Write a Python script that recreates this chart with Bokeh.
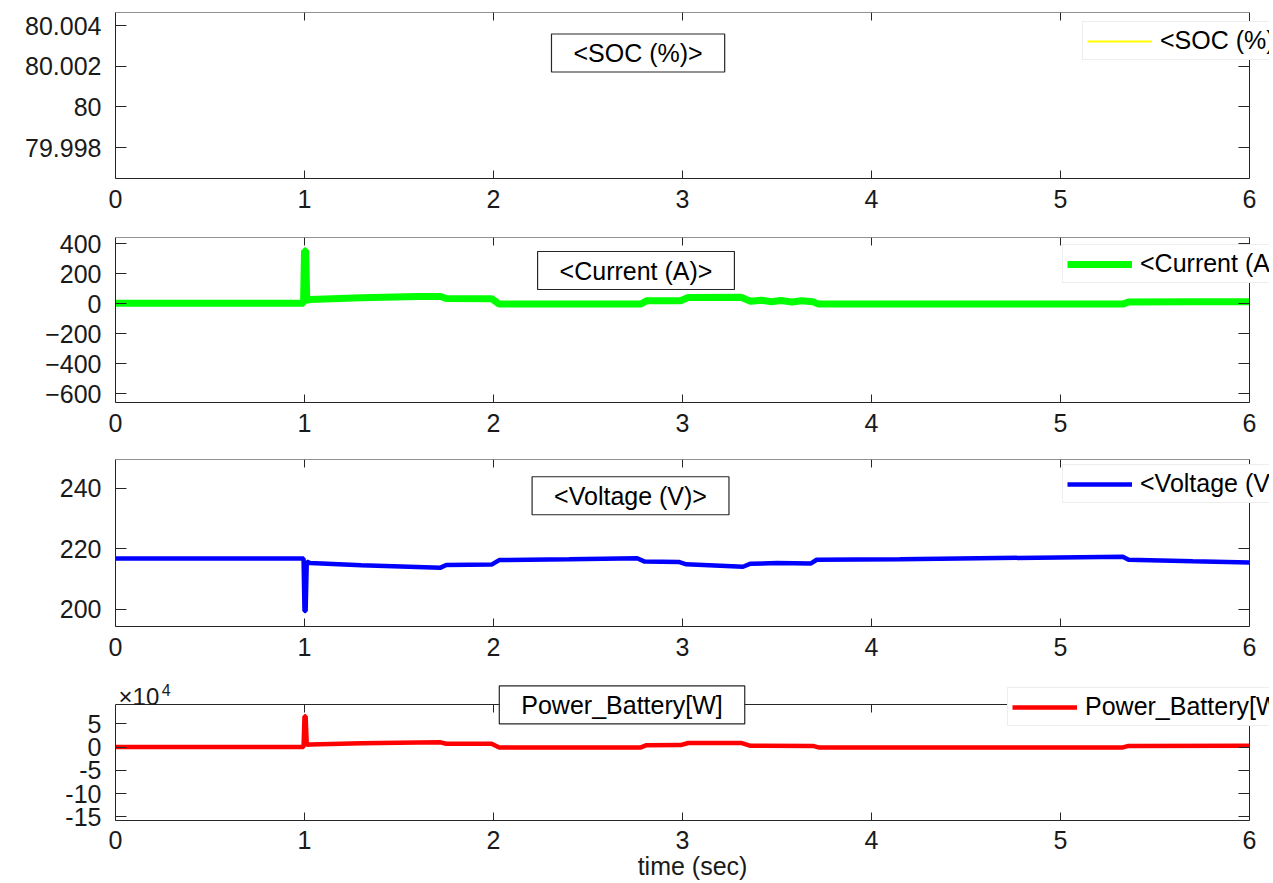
import numpy as np
from bokeh.plotting import figure
from bokeh.layouts import column
from bokeh.models import (LinearAxis, FixedTicker, Label, Legend, LegendItem,
                          Range1d, NumeralTickFormatter)
from bokeh.embed import file_html
from bokeh.resources import INLINE

FONT = "Liberation Sans"
AX = "#262626"

# ---------------- data ----------------
time_ticks = [0, 1, 2, 3, 4, 5, 6]
t_min, t_max = 0, 6

# SOC trace is not visible inside the axes of the reference (no readable values)
soc_time = np.array([0.0, 6.0])
soc_values = np.array([np.nan, np.nan])
soc_ticks = [79.998, 80.0, 80.002, 80.004]

current_time = [0.0, 0.995, 1.0, 1.006, 1.012, 1.03, 1.3, 1.6, 1.72, 1.75, 1.99, 2.03,
                2.78, 2.81, 2.99, 3.03, 3.31, 3.36, 3.42, 3.47, 3.52, 3.58, 3.63, 3.69,
                3.72, 5.33, 5.36, 5.7, 6.0]
current_values = [2, 2, 352, 352, 22, 26, 38, 46, 47, 33, 32, -4,
                  -4, 18, 19, 40, 41, 15, 22, 12, 20, 10, 18, 12,
                  -4, -4, 10, 12, 12]
current_ticks = [-600, -400, -200, 0, 200, 400]

voltage_time = [0.0, 0.995, 1.0, 1.006, 1.012, 1.03, 1.3, 1.72, 1.75, 1.99, 2.03, 2.4,
                2.76, 2.8, 2.98, 3.02, 3.32, 3.36, 3.5, 3.68, 3.71, 4.15, 5.33, 5.36,
                5.7, 6.0]
voltage_values = [216.8, 216.8, 199.5, 199.5, 215.8, 215.3, 214.6, 213.8, 214.7, 214.8,
                  216.3, 216.6, 216.9, 215.8, 215.7, 214.9, 214.1, 215.1, 215.3, 215.2,
                  216.4, 216.6, 217.4, 216.4, 215.9, 215.5]
voltage_ticks = [200, 220, 240]

power_time = [0.0, 0.995, 1.0, 1.006, 1.012, 1.03, 1.3, 1.6, 1.72, 1.75, 1.99, 2.03,
              2.78, 2.81, 2.99, 3.03, 3.31, 3.36, 3.69, 3.72, 5.33, 5.36, 6.0]
power_values = [0, 0, 66000, 66000, 5000, 5600, 8200, 9900, 10100, 7100, 6900, -900,
                -900, 3900, 4100, 8700, 8800, 2600, 2400, -900, -900, 2300, 2600]
power_ticks = [-150000, -100000, -50000, 0, 50000]
power_tick_labels = ["-15", "-10", "-5", "0", "5"]

titles = ["<SOC (%)>", "<Current (A)>", "<Voltage (V)>", "Power_Battery[W]"]
legend_labels = ["<SOC (%)>", "<Current (A)>", "<Voltage (V)>", "Power_Battery[W]"]
x_label = "time (sec)"
exponent_label = ["\u00d710", "4"]

# ---------------- layout helpers ----------------
BOX_W = 1134          # px between t=0 and t=6
EXTRA_RIGHT = 20      # frame extends past t=6 so legends can overflow the box
FW = BOX_W + EXTRA_RIGHT
X_END = t_max + EXTRA_RIGHT * (t_max - t_min) / BOX_W


def hide_labels(ax):
    ax.major_label_text_color = None
    ax.major_label_text_font_size = "1px"
    ax.major_label_standoff = 0


def base_style(ax, tick_len):
    ax.axis_line_color = AX
    ax.axis_line_width = 1
    ax.major_tick_line_color = AX
    ax.major_tick_in = tick_len
    ax.major_tick_out = 0
    ax.minor_tick_in = 0
    ax.minor_tick_out = 0


def make_fig(box_lo, box_hi, yticks, box_h, extra_top, top, bottom):
    y_hi = box_hi + extra_top * (box_hi - box_lo) / box_h
    p = figure(frame_width=FW, frame_height=box_h + extra_top,
               min_border_left=115, min_border_right=0,
               min_border_top=top, min_border_bottom=bottom,
               x_range=Range1d(t_min, X_END), y_range=Range1d(box_lo, y_hi),
               output_backend="svg", toolbar_location=None,
               x_axis_location=None, y_axis_location=None)
    p.grid.visible = False
    p.outline_line_color = None
    p.background_fill_color = "white"
    p.border_fill_color = "white"

    xb = LinearAxis(ticker=FixedTicker(ticks=time_ticks), bounds=(t_min, t_max))
    base_style(xb, 8)
    xb.major_label_text_font = FONT
    xb.major_label_text_font_size = "25px"
    xb.major_label_text_color = "#1a1a1a"
    xb.major_label_standoff = 11
    p.add_layout(xb, "below")

    xt = LinearAxis(ticker=FixedTicker(ticks=time_ticks), bounds=(t_min, t_max),
                    fixed_location=box_hi)
    base_style(xt, 8)
    hide_labels(xt)
    p.add_layout(xt, "above")

    yl = LinearAxis(ticker=FixedTicker(ticks=yticks), bounds=(box_lo, box_hi))
    base_style(yl, 11)
    yl.major_label_text_font = FONT
    yl.major_label_text_font_size = "25px"
    yl.major_label_text_color = "#1a1a1a"
    yl.major_label_standoff = 14
    p.add_layout(yl, "left")

    yr = LinearAxis(ticker=FixedTicker(ticks=yticks), bounds=(box_lo, box_hi),
                    fixed_location=t_max)
    base_style(yr, 11)
    hide_labels(yr)
    p.add_layout(yr, "right")
    return p, xb, yl


def add_title(p, text, x, y):
    p.add_layout(Label(x=x, y=y, text=text, text_font=FONT, text_font_size="25px",
                       text_color="black", text_align="center", text_baseline="middle",
                       border_line_color=AX, border_line_width=1.2,
                       background_fill_color="white", background_fill_alpha=1.0,
                       padding=(22, 5)))


def add_legend(p, renderer, label, x, y):
    leg = Legend(items=[LegendItem(label=label, renderers=[renderer])],
                 location=(x, y), glyph_width=65, glyph_height=20,
                 label_text_font=FONT, label_text_font_size="25px",
                 label_text_color="black",
                 label_standoff=8, padding=4, spacing=0, margin=0,
                 border_line_color="#dcdcdc", border_line_width=1,
                 background_fill_color="white", background_fill_alpha=1.0)
    p.add_layout(leg, "center")


# SOC
p1, xb1, yl1 = make_fig(79.99648, 80.00464, soc_ticks, 166, 0, 12, 50)
yl1.formatter = NumeralTickFormatter(format="0.[000]")
r1 = p1.line(soc_time, soc_values, line_color="#FFFF00", line_width=2)
add_title(p1, titles[0], 2.765, 80.00265)
add_legend(p1, r1, legend_labels[0], 967, 118)

# Current
p2, xb2, yl2 = make_fig(-660, 440, current_ticks, 165, 0, 9, 48)
r2 = p2.line(current_time, current_values, line_color="#00FF00", line_width=7)
add_title(p2, titles[1], 2.754, 220)
add_legend(p2, r2, legend_labels[1], 947, 119)

# Voltage
p3, xb3, yl3 = make_fig(194.39, 249.46, voltage_ticks, 167, 0, 9, 46)
r3 = p3.line(voltage_time, voltage_values, line_color="#0000FF", line_width=4.5)
add_title(p3, titles[2], 2.725, 237.5)
add_legend(p3, r3, legend_labels[2], 947, 123)

# Power
p4, xb4, yl4 = make_fig(-158000, 91400, power_ticks, 116, 26, 6, 63)
yl4.major_label_overrides = {t: s for t, s in zip(power_ticks, power_tick_labels)}
xb4.major_label_standoff = 10
xb4.axis_label = x_label
xb4.axis_label_text_font = FONT
xb4.axis_label_text_font_size = "25px"
xb4.axis_label_text_font_style = "normal"
xb4.axis_label_text_color = "#1a1a1a"
xb4.axis_label_standoff = 0
r4 = p4.line(power_time, power_values, line_color="#FF0000", line_width=4.5)
add_title(p4, titles[3], 2.68, 90500)
add_legend(p4, r4, legend_labels[3], 892, 94)
p4.add_layout(Label(x=0.016, y=109000, text=exponent_label[0], text_font=FONT,
                    text_font_size="24px", text_color="#1a1a1a",
                    text_align="left", text_baseline="alphabetic"))
p4.add_layout(Label(x=0.245, y=123000, text=exponent_label[1], text_font=FONT,
                    text_font_size="16px", text_color="#1a1a1a",
                    text_align="left", text_baseline="alphabetic"))

layout = column(p1, p2, p3, p4, spacing=0)
open("out.html", "w").write(file_html(layout, INLINE))
